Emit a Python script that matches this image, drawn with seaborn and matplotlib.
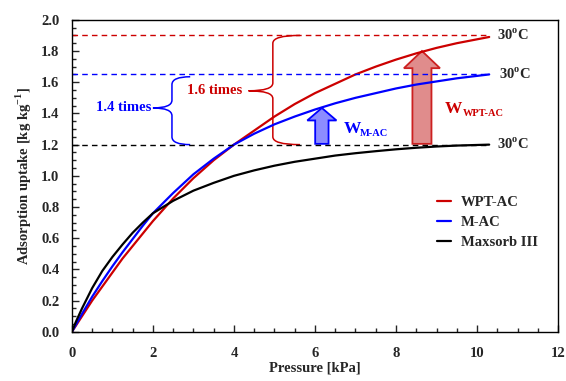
import numpy as np
import pandas as pd
import matplotlib
matplotlib.use("Agg")
import matplotlib.pyplot as plt
from matplotlib.path import Path
from matplotlib.patches import PathPatch, FancyArrow
from matplotlib.ticker import MultipleLocator
import seaborn as sns

# isotherm points (pressure in kPa, uptake in kg/kg)
p_wpt = [0, 0.25, 0.5, 0.75, 1, 1.25, 1.5, 1.75, 2, 2.5, 3, 3.5, 4, 4.5, 5, 5.5, 6, 6.5, 7, 7.5, 8, 8.5, 9, 9.5, 10.3]
q_wpt = [0, 0.10, 0.20, 0.29, 0.38, 0.47, 0.55, 0.63, 0.71, 0.855, 0.985, 1.10, 1.20, 1.29, 1.38, 1.46, 1.53, 1.59, 1.65, 1.70, 1.745, 1.785, 1.82, 1.85, 1.89]

p_mac = [0, 0.25, 0.5, 0.75, 1, 1.25, 1.5, 1.75, 2, 2.5, 3, 3.5, 4, 4.5, 5, 5.5, 6, 6.5, 7, 7.5, 8, 8.5, 9, 9.5, 10.3]
q_mac = [0, 0.115, 0.225, 0.325, 0.42, 0.51, 0.595, 0.68, 0.76, 0.89, 1.01, 1.11, 1.20, 1.27, 1.33, 1.38, 1.425, 1.465, 1.50, 1.53, 1.56, 1.585, 1.605, 1.625, 1.65]

p_max = [0, 0.1, 0.25, 0.5, 0.75, 1, 1.25, 1.5, 1.75, 2, 2.5, 3, 3.5, 4, 4.5, 5, 5.5, 6, 6.5, 7, 7.5, 8, 8.5, 9, 9.5, 10.3]
q_max = [0, 0.065, 0.15, 0.28, 0.39, 0.48, 0.56, 0.635, 0.70, 0.76, 0.84, 0.905, 0.955, 1.00, 1.035, 1.065, 1.09, 1.11, 1.13, 1.145, 1.158, 1.17, 1.18, 1.188, 1.194, 1.20]

names = ["WPT-AC", "M-AC", "Maxsorb III"]
colours = ["#cc0000", "#0000ff", "#000000"]
max_uptake = [1.90, 1.65, 1.20]

df = pd.concat([
    pd.DataFrame({"Pressure": p_wpt, "Uptake": q_wpt, "Adsorbent": names[0]}),
    pd.DataFrame({"Pressure": p_mac, "Uptake": q_mac, "Adsorbent": names[1]}),
    pd.DataFrame({"Pressure": p_max, "Uptake": q_max, "Adsorbent": names[2]}),
])

sns.set_style("ticks")
plt.rcParams["font.family"] = ["Liberation Serif", "DejaVu Serif"]
plt.rcParams["mathtext.fontset"] = "custom"
plt.rcParams["mathtext.rm"] = "Liberation Serif:bold"
plt.rcParams["mathtext.bf"] = "Liberation Serif:bold"
plt.rcParams["font.weight"] = "bold"

fig = plt.figure(figsize=(5.66, 3.81), dpi=100)
ax = fig.add_axes([0.127, 0.129, 0.859, 0.819])

sns.lineplot(data=df, x="Pressure", y="Uptake", hue="Adsorbent", hue_order=names,
             palette=colours, linewidth=1.6, ax=ax, sort=False)

# dashed saturation lines
for q, c in zip(max_uptake, colours):
    ax.plot([0, 10.3], [q, q], ls=(0, (4, 3)), color=c, lw=1.0)

ax.text(10.5, 1.90, "30$^{\\mathrm{o}}$C", fontsize=10.5, fontweight="bold", va="center")
ax.text(10.55, 1.65, "30$^{\\mathrm{o}}$C", fontsize=10.5, fontweight="bold", va="center")
ax.text(10.5, 1.20, "30$^{\\mathrm{o}}$C", fontsize=10.5, fontweight="bold", va="center")


def brace(x, y0, y1, ymid, arm, tip, colour):
    d = 0.05
    verts = [(x + arm, y1), (x, y1), (x, y1 - d),
             (x, ymid + d), (x, ymid), (x - tip, ymid),
             (x, ymid), (x, ymid - d),
             (x, y0 + d), (x, y0), (x + arm, y0)]
    codes = [Path.MOVETO, Path.CURVE3, Path.CURVE3,
             Path.LINETO, Path.CURVE3, Path.CURVE3,
             Path.CURVE3, Path.CURVE3,
             Path.LINETO, Path.CURVE3, Path.CURVE3]
    ax.add_patch(PathPatch(Path(verts, codes), fill=False, edgecolor=colour, lw=1.1))


brace(2.47, 1.20, 1.635, 1.435, 0.45, 0.47, "#0000ff")
ax.text(1.95, 1.435, "1.4 times", color="#0000ff", fontsize=10.5, fontweight="bold",
        ha="right", va="center")
brace(4.96, 1.20, 1.90, 1.545, 0.67, 0.60, "#cc0000")
ax.text(4.2, 1.545, "1.6 times", color="#cc0000", fontsize=10.5, fontweight="bold",
        ha="right", va="center")

# working capacity arrows
ax.add_patch(FancyArrow(6.17, 1.205, 0, 0.23, width=0.33, head_width=0.72,
                        head_length=0.08, length_includes_head=True,
                        facecolor="#8c8cff", edgecolor="#0000ff", lw=1.3))
ax.add_patch(FancyArrow(8.64, 1.205, 0, 0.595, width=0.47, head_width=0.89,
                        head_length=0.11, length_includes_head=True,
                        facecolor="#e08c8c", edgecolor="#cc2020", lw=1.3))
ax.text(6.7, 1.30, "W", color="#0000ff", fontsize=12.5, fontweight="bold", va="center")
ax.text(7.12, 1.27, "M-AC", color="#0000ff", fontsize=7.5, fontweight="bold", va="center")
ax.text(9.2, 1.43, "W", color="#cc0000", fontsize=12.5, fontweight="bold", va="center")
ax.text(9.64, 1.40, "WPT-AC", color="#cc0000", fontsize=7.5, fontweight="bold", va="center")

ax.set_xlim(0, 12)
ax.set_ylim(0, 2.0)
ax.xaxis.set_major_locator(MultipleLocator(2))
ax.xaxis.set_minor_locator(MultipleLocator(0.5))
ax.yaxis.set_major_locator(MultipleLocator(0.2))
ax.yaxis.set_minor_locator(MultipleLocator(0.05))
ax.yaxis.set_major_formatter(matplotlib.ticker.FormatStrFormatter("%.1f"))
ax.tick_params(which="both", direction="in", labelsize=10.5, width=1)
ax.tick_params(which="major", length=5, pad=9)
ax.tick_params(which="minor", length=3)
ax.tick_params(axis="x", which="major", pad=11)
for lab in ax.get_xticklabels() + ax.get_yticklabels():
    lab.set_fontweight("bold")
for s in ax.spines.values():
    s.set_visible(True)
    s.set_linewidth(1.0)
    s.set_color("black")

ax.set_xlabel("Pressure [kPa]", fontsize=10.5, fontweight="bold", labelpad=1)
ax.set_ylabel("Adsorption uptake [kg kg$^{-1}$]", fontsize=10.5, fontweight="bold", labelpad=5)

leg = ax.legend(title=None, frameon=False, loc="center left", bbox_to_anchor=(0.725, 0.35),
                handlelength=0.9, handletextpad=0.7, labelspacing=0.45,
                prop={"family": "Liberation Serif", "weight": "bold", "size": 10.5})
for h in leg.get_lines():
    h.set_linewidth(1.6)

fig.savefig("out.png", dpi=100)
